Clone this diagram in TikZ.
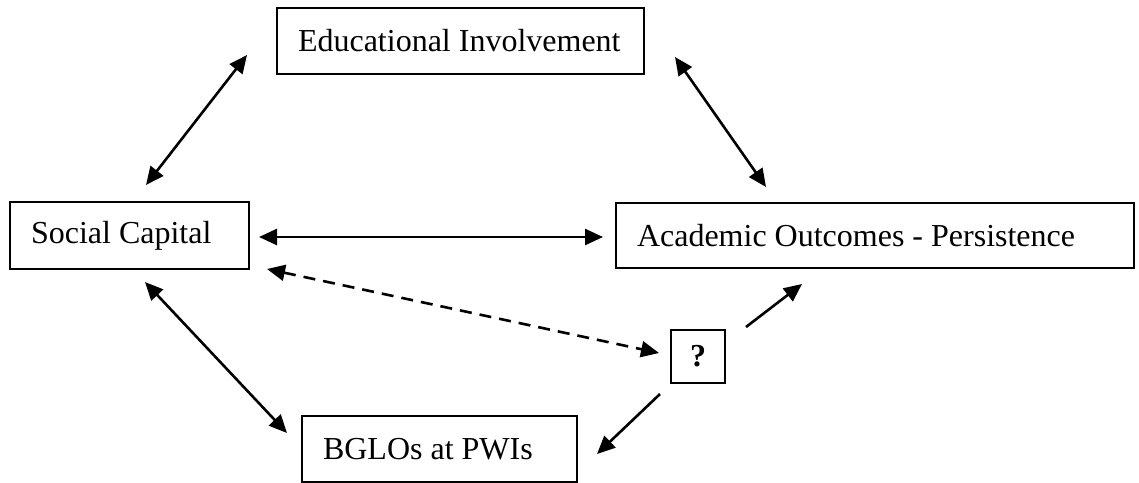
\documentclass[tikz,border=0pt]{standalone}
\usepackage{fontspec}
\setmainfont{Liberation Serif}
\usetikzlibrary{arrows.meta,calc}
\newcommand{\lbox}[2]{\makebox[#1][l]{#2}}
\tikzset{
  box/.style={draw=black, line width=2pt, rectangle, anchor=north west,
    inner xsep=21pt, inner ysep=0pt,
    font=\fontsize{32}{36}\selectfont},
  qbox/.style={draw=black, line width=2pt, rectangle, anchor=north west,
    inner sep=0pt, minimum width=54pt, minimum height=53pt,
    font=\fontsize{32}{36}\selectfont\bfseries},
  link/.style={line width=2.6pt, draw=black},
  both/.style={link, {Triangle[length=18pt, width=16pt]}-{Triangle[length=18pt, width=16pt]}},
  one/.style={link, -{Triangle[length=18pt, width=16pt]}},
  dashlink/.style={both, dash pattern=on 12pt off 8pt}
}
\begin{document}
\begin{tikzpicture}[x=1pt,y=-1pt]
\useasboundingbox (0,0) rectangle (1139,482);
\fill[white] (0,0) rectangle (1139,482);

\node[box, minimum height=66pt] (edu) at (276,7) {\lbox{325pt}{Educational Involvement}};
\node[box, minimum height=67pt] (soc) at (9,201) {\lbox{197pt}{Social Capital}};
\node[box, minimum height=65pt] (acad) at (615,202) {\lbox{476pt}{Academic Outcomes - Persistence}};
\node[qbox] (q) at (670,329) {?};
\node[box, minimum height=66pt] (bglo) at (301,415) {\lbox{233pt}{BGLOs at PWIs}};

\draw[both] ($(soc.north)+(16.5,-16)$) -- ($(edu.south west)+(-29,-20)$);
\draw[both] ($(edu.south east)+(30,-18)$) -- ($(acad.north west)+(151,-15)$);
\draw[both] ($(soc.east)+(9,1.5)$) -- ($(acad.west)+(-12,1.5)$);
\draw[both] ($(soc.south)+(15.5,12)$) -- ($(bglo.west)+(-14,-16)$);
\draw[dashlink] ($(soc.south east)+(17,-1)$) -- ($(q.west)+(-11,-3.5)$);
\draw[one] ($(q.north east)+(20,-2)$) -- ($(acad.south west)+(187,15)$);
\draw[one] ($(q.south west)+(-10,10)$) -- ($(bglo.east)+(19,5)$);
\end{tikzpicture}
\end{document}
